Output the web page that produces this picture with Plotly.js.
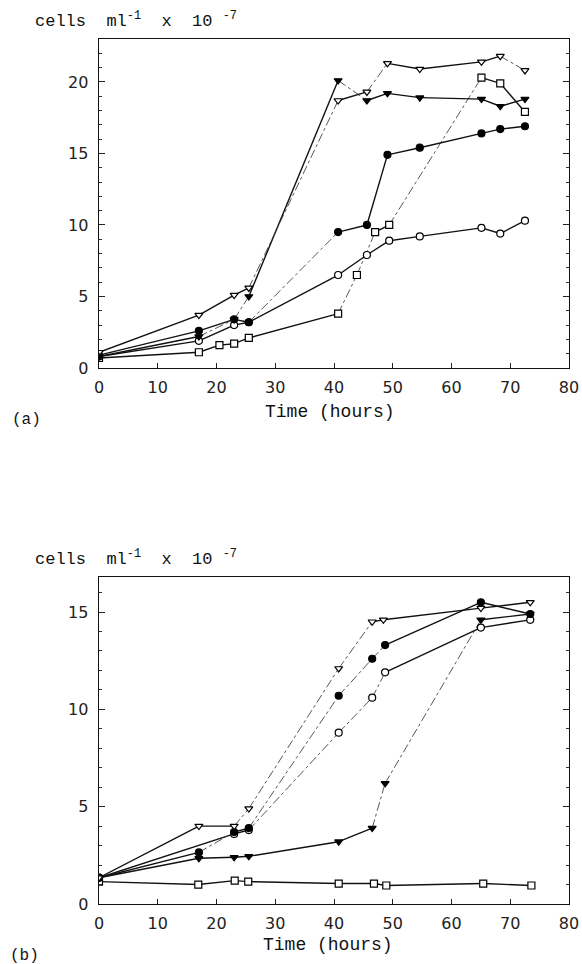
<!DOCTYPE html>
<html>
<head>
<meta charset="utf-8">
<script src="https://cdn.plot.ly/plotly-3.0.1.min.js"></script>
<style>html,body{margin:0;padding:0;background:#fff;}#chart{width:582px;height:964px;}</style>
</head>
<body>
<div id="chart"></div>
<script>
// ---------- DATA : panel (a) ----------
const a_openTri_t   = [0, 17, 23, 25.5, 40.7, 45.6, 49.1, 54.6, 65.1, 68.3, 72.5];
const a_openTri_y   = [1.1, 3.7, 5.1, 5.6, 18.7, 19.3, 21.3, 20.9, 21.4, 21.8, 20.8];
const a_filledTri_t = [0, 17, 23, 25.5, 40.7, 45.6, 49.1, 54.6, 65.1, 68.3, 72.5];
const a_filledTri_y = [0.8, 2.2, 3.4, 5.0, 20.1, 18.7, 19.2, 18.9, 18.8, 18.3, 18.8];
const a_filledCirc_t = [0, 17, 23, 25.5, 40.7, 45.6, 49.1, 54.6, 65.1, 68.3, 72.5];
const a_filledCirc_y = [0.9, 2.6, 3.4, 3.2, 9.5, 10.0, 14.9, 15.4, 16.4, 16.7, 16.9];
const a_openCirc_t  = [0, 17, 23, 25.5, 40.7, 45.6, 49.4, 54.6, 65.1, 68.3, 72.5];
const a_openCirc_y  = [0.8, 1.9, 3.0, 3.2, 6.5, 7.9, 8.9, 9.2, 9.8, 9.4, 10.3];
const a_square_t    = [0, 17, 20.5, 23, 25.5, 40.7, 43.9, 47.0, 49.4, 65.1, 68.3, 72.5];
const a_square_y    = [0.7, 1.1, 1.6, 1.7, 2.1, 3.8, 6.5, 9.5, 10.0, 20.3, 19.9, 17.9];

// ---------- DATA : panel (b) ----------
const b_openTri_t    = [0, 17, 23, 25.5, 40.8, 46.5, 48.4, 65.0, 73.4];
const b_openTri_y    = [1.35, 4.0, 4.0, 4.9, 12.1, 14.5, 14.6, 15.2, 15.5];
const b_filledCirc_t = [0, 17, 23, 25.5, 40.8, 46.5, 48.7, 65.0, 73.4];
const b_filledCirc_y = [1.35, 2.65, 3.7, 3.9, 10.7, 12.6, 13.3, 15.5, 14.9];
const b_openCirc_t   = [0, 23, 25.5, 40.8, 46.5, 48.7, 65.0, 73.4];
const b_openCirc_y   = [1.35, 3.6, 3.8, 8.8, 10.6, 11.9, 14.2, 14.6];
const b_filledTri_t  = [0, 17, 23, 25.5, 40.8, 46.5, 48.7, 65.0, 73.4];
const b_filledTri_y  = [1.35, 2.35, 2.4, 2.45, 3.2, 3.9, 6.2, 14.6, 14.9];
const b_square_t     = [0, 16.9, 23.1, 25.4, 40.8, 46.8, 48.9, 65.4, 73.6];
const b_square_y     = [1.15, 1.0, 1.2, 1.15, 1.05, 1.05, 0.95, 1.05, 0.95];

// ---------- tick labels ----------
const xTickVals = [0, 10, 20, 30, 40, 50, 60, 70, 80];
const xTickText = ['0', '10', '20', '30', '40', '50', '60', '70', '80'];
const aYTickVals = [0, 5, 10, 15, 20];
const bYTickVals = [0, 5, 10, 15];

// ---------- styles (segments drawn as thin dash-dot in the original print) ----------
const STY = {
  openTri:    {symbol: 'triangle-down', fill: '#fff'},
  filledTri:  {symbol: 'triangle-down', fill: '#000'},
  filledCirc: {symbol: 'circle', fill: '#000'},
  openCirc:   {symbol: 'circle', fill: '#fff'},
  square:     {symbol: 'square', fill: '#fff'}
};
const dashedA = {openTri: [3, 5, 9], filledTri: [1, 2, 4], filledCirc: [3], openCirc: [], square: [5, 6, 8]};
const dashedB = {openTri: [2, 3, 4], filledCirc: [1, 3, 4, 5], openCirc: [2, 3, 4], filledTri: [5, 6], square: []};

function seriesTraces(t, y, kind, dashed, xa, ya) {
  const sx = [], sy = [], dx = [], dy = [];
  for (let i = 0; i < t.length - 1; i++) {
    if (dashed.includes(i)) {
      dx.push(t[i], t[i + 1], null); dy.push(y[i], y[i + 1], null);
    } else {
      sx.push(t[i], t[i + 1], null); sy.push(y[i], y[i + 1], null);
    }
  }
  const st = STY[kind];
  return [
    {x: sx, y: sy, xaxis: xa, yaxis: ya, mode: 'lines', line: {color: '#111', width: 1.4}, hoverinfo: 'skip', showlegend: false},
    {x: dx, y: dy, xaxis: xa, yaxis: ya, mode: 'lines', line: {color: '#444', width: 0.9, dash: 'dashdot'}, hoverinfo: 'skip', showlegend: false},
    {x: t, y: y, xaxis: xa, yaxis: ya, mode: 'markers', showlegend: false,
     marker: {symbol: st.symbol, size: 7, color: st.fill, line: {color: '#000', width: 1.2}}}
  ];
}

const traces = [].concat(
  seriesTraces(a_square_t, a_square_y, 'square', dashedA.square, 'x', 'y'),
  seriesTraces(a_openCirc_t, a_openCirc_y, 'openCirc', dashedA.openCirc, 'x', 'y'),
  seriesTraces(a_filledCirc_t, a_filledCirc_y, 'filledCirc', dashedA.filledCirc, 'x', 'y'),
  seriesTraces(a_filledTri_t, a_filledTri_y, 'filledTri', dashedA.filledTri, 'x', 'y'),
  seriesTraces(a_openTri_t, a_openTri_y, 'openTri', dashedA.openTri, 'x', 'y'),
  seriesTraces(b_square_t, b_square_y, 'square', dashedB.square, 'x2', 'y2'),
  seriesTraces(b_filledTri_t, b_filledTri_y, 'filledTri', dashedB.filledTri, 'x2', 'y2'),
  seriesTraces(b_openCirc_t, b_openCirc_y, 'openCirc', dashedB.openCirc, 'x2', 'y2'),
  seriesTraces(b_filledCirc_t, b_filledCirc_y, 'filledCirc', dashedB.filledCirc, 'x2', 'y2'),
  seriesTraces(b_openTri_t, b_openTri_y, 'openTri', dashedB.openTri, 'x2', 'y2')
);

const W = 582, H = 964;
const tickFont = {family: 'DejaVu Sans, sans-serif', size: 16, color: '#222'};
const monoFont = {family: 'Liberation Mono, DejaVu Sans Mono, monospace', size: 17, color: '#111'};
const NB = '\u00a0';
const unitText = 'cells' + NB + NB + 'ml<sup>-1</sup>' + NB + NB + 'x' + NB + NB + '10' + NB + '<sup>-7</sup>';
function xAxis() {
  return {domain: [99 / W, 569 / W], range: [0, 80], tickvals: xTickVals, ticktext: xTickText,
    ticks: 'inside', ticklen: 5, tickcolor: '#222', showgrid: false, zeroline: false,
    showline: true, linecolor: '#111', linewidth: 1.4, mirror: true, tickfont: tickFont,
    ticklabelstandoff: 4, fixedrange: true};
}
function yAxis(range, vals, dom) {
  return {domain: dom, range: range, tickvals: vals, ticks: 'inside', ticklen: 6, tickcolor: '#222',
    minor: {dtick: 1, ticks: 'inside', ticklen: 3, tickcolor: '#333', showgrid: false},
    showgrid: false, zeroline: false, showline: true, linecolor: '#111', linewidth: 1.4,
    mirror: 'ticks', tickfont: tickFont, ticklabelstandoff: 6, fixedrange: true};
}

const layout = {
  width: W, height: H, margin: {l: 0, r: 0, t: 0, b: 0},
  paper_bgcolor: '#fff', plot_bgcolor: '#fff', showlegend: false,
  xaxis: Object.assign(xAxis(), {anchor: 'y'}),
  yaxis: Object.assign(yAxis([0, 23], aYTickVals, [1 - 368 / H, 1 - 39 / H]), {anchor: 'x'}),
  xaxis2: Object.assign(xAxis(), {anchor: 'y2'}),
  yaxis2: Object.assign(yAxis([0, 16.8], bYTickVals, [1 - 904 / H, 1 - 577 / H]), {anchor: 'x2'}),
  annotations: [
    {text: unitText, xref: 'paper', yref: 'paper', x: 33 / W, y: 1 - 20 / H, xanchor: 'left', yanchor: 'middle', showarrow: false, font: monoFont},
    {text: 'Time (hours)', xref: 'paper', yref: 'paper', x: 330 / W, y: 1 - 412 / H, xanchor: 'center', yanchor: 'middle', showarrow: false, font: Object.assign({}, monoFont, {size: 18})},
    {text: '(a)', xref: 'paper', yref: 'paper', x: 26 / W, y: 1 - 420 / H, xanchor: 'center', yanchor: 'middle', showarrow: false, font: Object.assign({}, monoFont, {size: 16})},
    {text: unitText, xref: 'paper', yref: 'paper', x: 33 / W, y: 1 - 558 / H, xanchor: 'left', yanchor: 'middle', showarrow: false, font: monoFont},
    {text: 'Time (hours)', xref: 'paper', yref: 'paper', x: 328 / W, y: 1 - 945 / H, xanchor: 'center', yanchor: 'middle', showarrow: false, font: Object.assign({}, monoFont, {size: 18})},
    {text: '(b)', xref: 'paper', yref: 'paper', x: 24 / W, y: 1 - 956 / H, xanchor: 'center', yanchor: 'middle', showarrow: false, font: Object.assign({}, monoFont, {size: 16})}
  ]
};

Plotly.newPlot('chart', traces, layout, {staticPlot: true, displayModeBar: false});
</script>
</body>
</html>
